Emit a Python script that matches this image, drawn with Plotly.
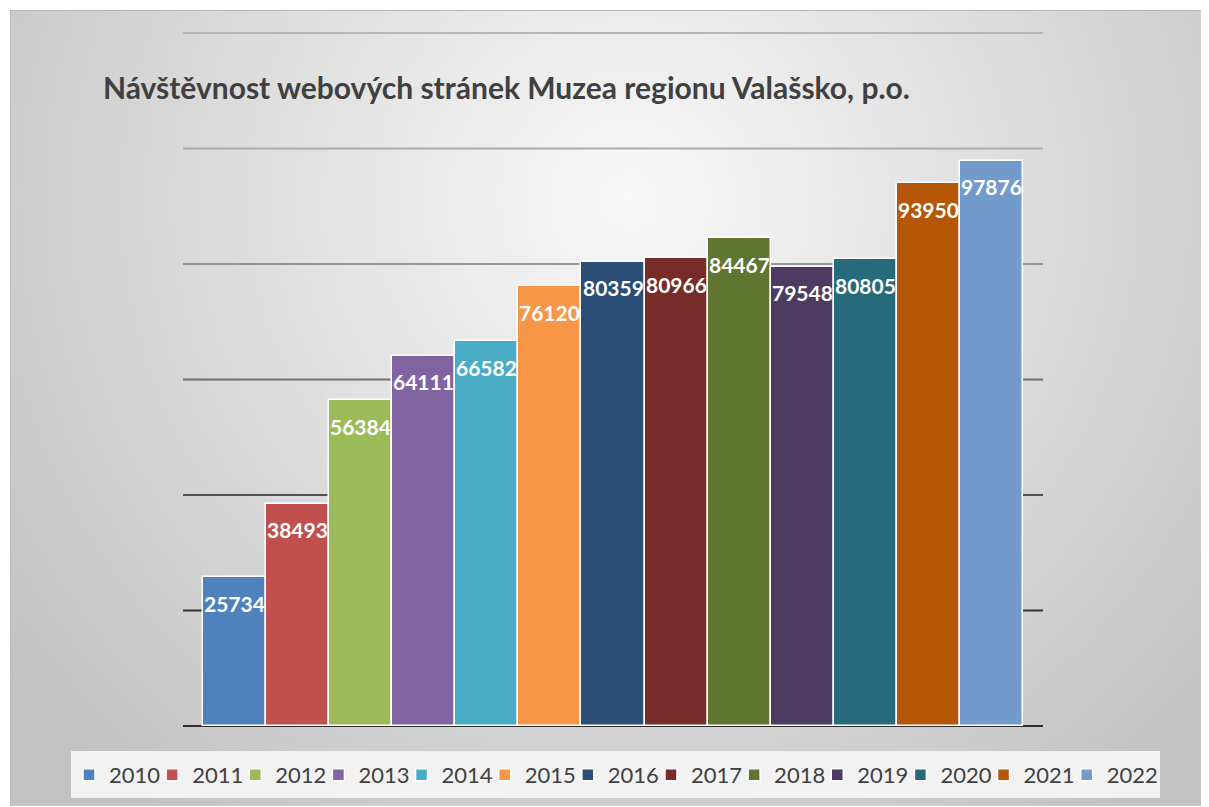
import base64
import plotly.graph_objects as go

years = ["2010", "2011", "2012", "2013", "2014", "2015", "2016",
         "2017", "2018", "2019", "2020", "2021", "2022"]
visits = [25734, 38493, 56384, 64111, 66582, 76120, 80359,
          80966, 84467, 79548, 80805, 93950, 97876]
colors = ["#4f81bd", "#c0504d", "#9bbb59", "#8064a2", "#4bacc6", "#f79646", "#2c4d75",
          "#772c2a", "#5f7530", "#4d3b62", "#276a7c", "#b65708", "#729aca"]
grid_values = [0, 20000, 40000, 60000, 80000, 100000, 120000]
grid_colors = ["#2e2e2e", "#353535", "#505050", "#707070", "#959595", "#ababab", "#b6b6b6"]

title = "Návštěvnost webových stránek Muzea regionu Valašsko, p.o."

# page has an 8px body margin; figure coordinates = reference pixels - OFF
OFF = 8
W, H = 1201, 799
L, R, T, B = 175, 166, 22, 77
PW, PH = W - L - R, H - T - B


def fx(px):  # reference pixel x -> paper x
    return (px - OFF - L) / PW


def fy(py):  # reference pixel y -> paper y
    return (H - B - (py - OFF)) / PH


legend_step = 83.14
legend_start = 69

fig = go.Figure()
legend_layouts = {}
for i, (yr, v, c) in enumerate(zip(years, visits, colors)):
    lname = "legend" if i == 0 else f"legend{i + 1}"
    fig.add_trace(go.Bar(
        x=[yr], y=[v], name=yr, width=1,
        marker=dict(color=c, line=dict(color="white", width=1.5)),
        legend=lname,
        hoverinfo="x+y",
    ))
    fig.add_annotation(
        x=i, y=v, xref="x", yref="y", text=str(v), showarrow=False,
        yanchor="middle", yshift=-26,
        font=dict(family="Lato", size=21, color="white", weight="bold"),
    )
    legend_layouts[lname] = dict(
        orientation="h", yanchor="middle", y=fy(775), xanchor="left",
        x=fx(legend_start + i * legend_step),
        bgcolor="rgba(0,0,0,0)", itemwidth=30,
        font=dict(family="Lato", size=22, color="#404040"))

for gv, gc in zip(grid_values, grid_colors):
    fig.add_shape(type="line", xref="paper", yref="y", x0=0, x1=1, y0=gv, y1=gv,
                  line=dict(color=gc, width=2), layer="below")

# legend background box
fig.add_shape(type="rect", xref="paper", yref="paper",
              x0=fx(71), x1=fx(1160), y0=fy(799), y1=fy(752),
              line=dict(width=0), fillcolor="#f2f2f2", layer="below")

svg = ('<svg xmlns="http://www.w3.org/2000/svg" width="1199" height="797" viewBox="0 0 1199 797" '
       'preserveAspectRatio="none"><defs><radialGradient id="g" gradientUnits="userSpaceOnUse" '
       'cx="620" cy="190" r="780"><stop offset="0" stop-color="#f8f8f8"/>'
       '<stop offset="1" stop-color="#c2c2c2"/></radialGradient></defs>'
       '<rect width="1199" height="797" fill="url(#g)"/>'
       '<line x1="0" y1="0.5" x2="1199" y2="0.5" stroke="#b8b8b8" stroke-width="1"/>'
       '<line x1="0.5" y1="0" x2="0.5" y2="797" stroke="#bcbcbc" stroke-width="1"/></svg>')
src = "data:image/svg+xml;base64," + base64.b64encode(svg.encode()).decode()
fig.add_layout_image(dict(
    source=src, xref="paper", yref="paper",
    x=fx(10), y=fy(10), sizex=1199 / PW, sizey=797 / PH,
    xanchor="left", yanchor="top", sizing="stretch", layer="below",
))

yunit = 120000 / 694
fig.update_layout(
    width=W, height=H,
    margin=dict(l=L, r=R, t=T, b=B, pad=0),
    paper_bgcolor="white",
    plot_bgcolor="rgba(0,0,0,0)",
    barmode="overlay",
    bargap=0,
    title=dict(text=title, xref="container", yref="container",
               x=(103 - OFF) / W, xanchor="left", y=1 - (88 - OFF) / H, yanchor="middle",
               font=dict(family="Lato", size=30, color="#404040", weight="bold")),
    xaxis=dict(type="category", range=[-0.816, 12.816], showgrid=False,
               showticklabels=False, ticks="", showline=False, zeroline=False),
    yaxis=dict(range=[-3 * yunit, 120000 + 3 * yunit], showgrid=False,
               showticklabels=False, ticks="", showline=False, zeroline=False),
    showlegend=True,
    **legend_layouts,
)

fig.write_html("out.html")
